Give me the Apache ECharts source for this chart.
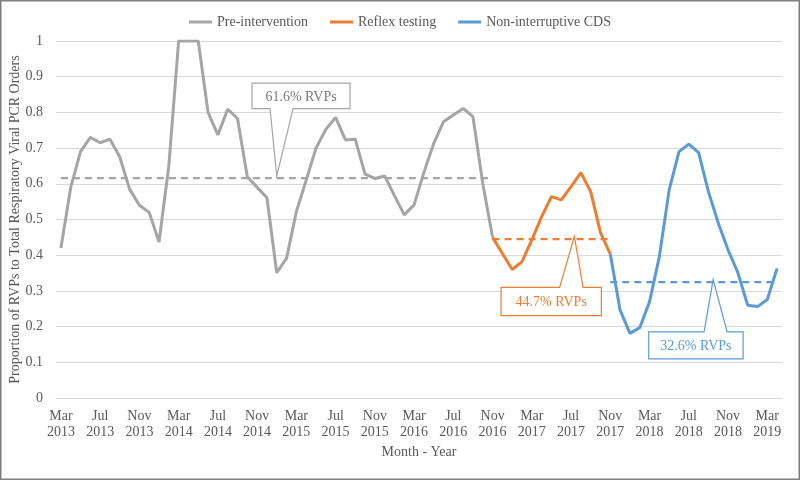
<!DOCTYPE html>
<html>
<head>
<meta charset="utf-8">
<script src="https://cdn.jsdelivr.net/npm/echarts@6/dist/echarts.min.js"></script>
<style>html,body{margin:0;padding:0;background:#fff}#c{width:800px;height:480px}</style>
</head>
<body>
<div id="c"></div>
<script>
const months = [
 'Mar 2013','Apr 2013','May 2013','Jun 2013','Jul 2013','Aug 2013','Sep 2013','Oct 2013','Nov 2013','Dec 2013',
 'Jan 2014','Feb 2014','Mar 2014','Apr 2014','May 2014','Jun 2014','Jul 2014','Aug 2014','Sep 2014','Oct 2014','Nov 2014','Dec 2014',
 'Jan 2015','Feb 2015','Mar 2015','Apr 2015','May 2015','Jun 2015','Jul 2015','Aug 2015','Sep 2015','Oct 2015','Nov 2015','Dec 2015',
 'Jan 2016','Feb 2016','Mar 2016','Apr 2016','May 2016','Jun 2016','Jul 2016','Aug 2016','Sep 2016','Oct 2016','Nov 2016','Dec 2016',
 'Jan 2017','Feb 2017','Mar 2017','Apr 2017','May 2017','Jun 2017','Jul 2017','Aug 2017','Sep 2017','Oct 2017','Nov 2017','Dec 2017',
 'Jan 2018','Feb 2018','Mar 2018','Apr 2018','May 2018','Jun 2018','Jul 2018','Aug 2018','Sep 2018','Oct 2018','Nov 2018','Dec 2018',
 'Jan 2019','Feb 2019','Mar 2019','Apr 2019'
];
// Pre-intervention: Mar 2013 .. Nov 2016
const preIntervention = [0.42,0.59,0.69,0.73,0.715,0.725,0.675,0.585,0.54,0.52,0.437,0.65,
 1.0,1.0,1.0,0.80,0.737,0.809,0.783,0.62,0.59,0.561,0.351,0.391,
 0.522,0.61,0.70,0.752,0.786,0.723,0.725,0.627,0.615,0.622,0.567,0.513,
 0.541,0.632,0.713,0.774,0.793,0.811,0.788,0.601,0.45];
// Reflex testing: Nov 2016 .. Nov 2017
const reflexTesting = [0.45,0.405,0.36,0.382,0.443,0.508,0.564,0.555,0.592,0.631,0.578,0.463,0.403];
// Non-interruptive CDS: Nov 2017 .. Apr 2019
const nonInterruptive = [0.403,0.246,0.181,0.197,0.27,0.396,0.583,0.69,0.711,0.687,0.578,0.49,0.415,0.351,0.26,0.256,0.276,0.363];

const preStart = 0, reflexStart = 44, cdsStart = 56;
const preMean = 0.616, reflexMean = 0.447, cdsMean = 0.326;
const preLabel = '61.6% RVPs', reflexLabel = '44.7% RVPs', cdsLabel = '32.6% RVPs';

const GRAY = '#A5A5A5', ORANGE = '#ED7D31', BLUE = '#5B9BD5';
const FONT = 'Liberation Serif';

function pad(arr, start) {
  const out = months.map(() => null);
  arr.forEach((v, i) => { out[start + i] = v; });
  return out;
}
function meanLine(start, len, mean, color) {
  return {
    silent: true, symbol: 'none', animation: false,
    label: {show: false},
    lineStyle: {color: color, type: [7, 5], width: 2.25},
    data: [[{coord: [start, mean]}, {coord: [start + len - 1, mean]}]]
  };
}

const chart = echarts.init(document.getElementById('c'), null, {renderer: 'canvas'});
chart.setOption({
  animation: false,
  textStyle: {fontFamily: FONT},
  legend: {
    top: 10, left: 'center', icon: 'rect', itemWidth: 23, itemHeight: 3, itemGap: 22,
    textStyle: {fontFamily: FONT, fontSize: 14, color: '#595959'},
    data: ['Pre-intervention', 'Reflex testing', 'Non-interruptive CDS']
  },
  grid: {left: 56, right: 18, top: 41, bottom: 82, containLabel: false, outerBoundsMode: 'none'},
  xAxis: {
    type: 'category', data: months, boundaryGap: true,
    axisTick: {show: false},
    axisLine: {lineStyle: {color: '#d9d9d9', width: 1}},
    axisLabel: {interval: 3, margin: 10, fontFamily: FONT, fontSize: 14, color: '#595959', lineHeight: 16,
      formatter: v => v.replace(' ', '\n')},
    name: 'Month - Year', nameLocation: 'middle', nameGap: 47, nameMoveOverlap: false,
    nameTextStyle: {fontFamily: FONT, fontSize: 14, color: '#595959'}
  },
  yAxis: {
    type: 'value', min: 0, max: 1, interval: 0.1,
    axisLine: {show: false}, axisTick: {show: false},
    splitLine: {lineStyle: {color: '#d9d9d9', width: 1}},
    axisLabel: {margin: 13, fontFamily: FONT, fontSize: 14, color: '#595959'},
    name: 'Proportion of RVPs to Total Respiratory Viral PCR Orders', nameLocation: 'middle', nameGap: 34,
    nameRotate: 90, nameMoveOverlap: false,
    nameTextStyle: {fontFamily: FONT, fontSize: 14, color: '#595959'}
  },
  series: [
    {name: 'Pre-intervention', type: 'line', data: pad(preIntervention, preStart), symbol: 'none',
     itemStyle: {color: GRAY}, lineStyle: {color: GRAY, width: 3},
     markLine: meanLine(preStart, preIntervention.length, preMean, GRAY)},
    {name: 'Reflex testing', type: 'line', data: pad(reflexTesting, reflexStart), symbol: 'none',
     itemStyle: {color: ORANGE}, lineStyle: {color: ORANGE, width: 3},
     markLine: meanLine(reflexStart, reflexTesting.length, reflexMean, ORANGE)},
    {name: 'Non-interruptive CDS', type: 'line', data: pad(nonInterruptive, cdsStart), symbol: 'none',
     itemStyle: {color: BLUE}, lineStyle: {color: BLUE, width: 3},
     markLine: meanLine(cdsStart, nonInterruptive.length, cdsMean, BLUE)}
  ]
});

function callout(idx, dx, val, text, color, textColor, geo, above) {
  const p = chart.convertToPixel({xAxisIndex: 0, yAxisIndex: 0}, [idx, val]);
  const tx = p[0] + dx, ty = p[1] - 2;
  const L = tx + geo.l, R = tx + geo.r, T = ty + geo.t, B = ty + geo.b;
  const w1 = tx + geo.w1, w2 = tx + geo.w2;
  let pts;
  if (above) pts = [[L, T], [R, T], [R, B], [w2, B], [tx, ty], [w1, B], [L, B]];
  else pts = [[L, B], [L, T], [w1, T], [tx, ty], [w2, T], [R, T], [R, B]];
  return [
    {type: 'polygon', z: 100, shape: {points: pts},
     style: {fill: '#fff', stroke: color, lineWidth: 1.2}},
    {type: 'text', z: 101, x: (L + R) / 2, y: (T + B) / 2 + 1,
     style: {text: text, fill: textColor, font: '14px "' + FONT + '"', align: 'center', verticalAlign: 'middle'}}
  ];
}

const g = [].concat(
  callout(22, 0, preMean, preLabel, GRAY, '#7a7a7a', {l: -24.7, r: 73.3, t: -93, b: -67.4, w1: -6.7, w2: 16.3}, true),
  callout(52, 3.3, reflexMean, reflexLabel, ORANGE, ORANGE, {l: -73.3, r: 27, t: 51, b: 79.3, w1: -14.7, w2: 8.7}, false),
  callout(66, 4.7, cdsMean, cdsLabel, BLUE, BLUE, {l: -64.4, r: 30, t: 52.3, b: 79.3, w1: -9, w2: 14}, false),
  [{type: 'rect', z: 200, silent: true, shape: {x: 0.75, y: 0.75, width: 798.5, height: 478.5},
    style: {fill: 'none', stroke: '#7f7f7f', lineWidth: 1.5}}]
);
chart.setOption({graphic: g});
</script>
</body>
</html>
